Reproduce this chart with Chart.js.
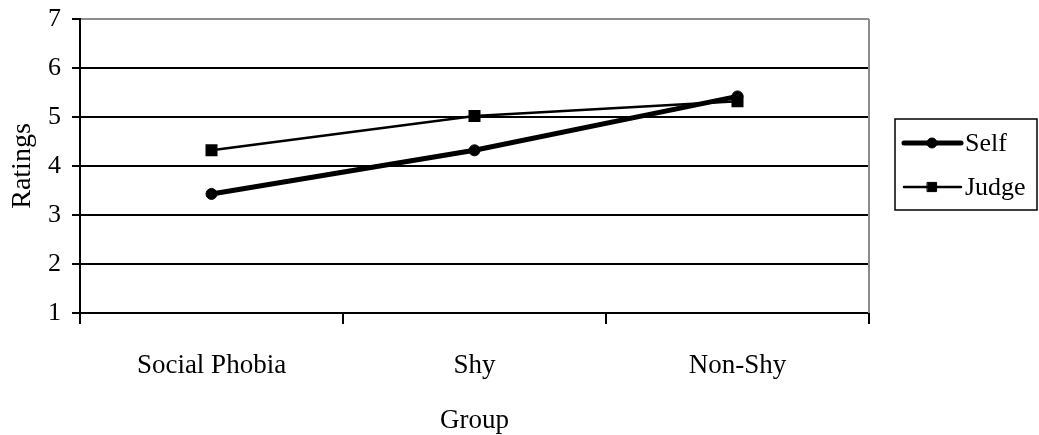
<!DOCTYPE html>
<html>
<head>
<meta charset="utf-8">
<style>
  html, body { margin: 0; padding: 0; background: #fff; }
  canvas { display: block; }
</style>
<script src="https://cdn.jsdelivr.net/npm/chart.js@4/dist/chart.umd.min.js"></script>
</head>
<body>
<canvas id="ratingsChart" width="1039" height="435"></canvas>
<script>
// Mean ratings per group
const groups = ['Social Phobia', 'Shy', 'Non-Shy'];
const selfRatings = [3.43, 4.32, 5.42];
const judgeRatings = [4.32, 5.02, 5.32];
const ratingTicks = [1, 2, 3, 4, 5, 6, 7];
const seriesNames = ['Self', 'Judge'];

const serif = "'Liberation Serif', 'Times New Roman', serif";

// Thin grey frame line on the right edge of the plot area
const rightBorder = {
  id: 'rightBorder',
  beforeDatasetsDraw(chart) {
    const { ctx, chartArea: a } = chart;
    ctx.save();
    ctx.strokeStyle = '#8c8c8c';
    ctx.lineWidth = 2;
    ctx.beginPath();
    ctx.moveTo(a.right, a.top);
    ctx.lineTo(a.right, a.bottom);
    ctx.stroke();
    ctx.restore();
  }
};

// Boxed legend to the right of the plot, line sample with marker
const legendBox = {
  id: 'legendBox',
  afterDraw(chart) {
    const { ctx, chartArea: a } = chart;
    const x0 = a.right + 26;
    const y0 = 119;
    const w = chart.width - 2 - x0;
    const h = 91;
    ctx.save();
    ctx.strokeStyle = '#000';
    ctx.fillStyle = '#000';
    ctx.lineWidth = 1.5;
    ctx.strokeRect(x0, y0, w, h);
    chart.data.datasets.forEach((ds, i) => {
      const y = y0 + 24 + i * 44;
      ctx.beginPath();
      ctx.lineWidth = ds.borderWidth;
      ctx.lineCap = 'round';
      ctx.moveTo(x0 + 9, y);
      ctx.lineTo(x0 + 66, y);
      ctx.stroke();
      ctx.lineWidth = 1;
      Chart.helpers.drawPoint(ctx, {
        pointStyle: ds.pointStyle,
        radius: ds.legendMarkerRadius,
        borderWidth: 1,
        rotation: 0
      }, x0 + 37, y);
      ctx.font = '26px ' + serif;
      ctx.textBaseline = 'middle';
      ctx.textAlign = 'left';
      ctx.fillText(ds.label, x0 + 70, y + 1);
    });
    ctx.restore();
  }
};

new Chart(document.getElementById('ratingsChart'), {
  type: 'line',
  data: {
    labels: groups,
    datasets: [
      {
        label: seriesNames[0],
        data: selfRatings,
        borderColor: '#000',
        backgroundColor: '#000',
        borderWidth: 5,
        pointStyle: 'circle',
        pointRadius: 5.5,
        pointHoverRadius: 5.5,
        pointBorderWidth: 1,
        legendMarkerRadius: 5,
        tension: 0
      },
      {
        label: seriesNames[1],
        data: judgeRatings,
        borderColor: '#000',
        backgroundColor: '#000',
        borderWidth: 2.5,
        pointStyle: 'rect',
        pointRadius: 8.5,
        pointHoverRadius: 8.5,
        pointBorderWidth: 0,
        legendMarkerRadius: 6.5,
        tension: 0
      }
    ]
  },
  options: {
    responsive: false,
    animation: false,
    events: [],
    layout: { padding: { top: 19, right: 170, left: 0, bottom: 0 } },
    plugins: {
      legend: { display: false },
      tooltip: { enabled: false }
    },
    scales: {
      x: {
        offset: true,
        grid: {
          offset: true,
          drawOnChartArea: false,
          color: '#000',
          lineWidth: 2,
          tickLength: 11
        },
        border: { color: '#000', width: 2 },
        ticks: {
          color: '#000',
          font: { family: serif, size: 27 },
          padding: 26
        },
        title: {
          display: true,
          text: 'Group',
          color: '#000',
          font: { family: serif, size: 27 },
          padding: { top: 0, bottom: -2 }
        },
        afterFit(scale) { scale.height = 122; }
      },
      y: {
        min: 1,
        max: 7,
        afterBuildTicks(scale) {
          scale.ticks = ratingTicks.map(v => ({ value: v }));
        },
        ticks: {
          color: '#000',
          font: { family: serif, size: 26 },
          padding: 11
        },
        grid: {
          color: c => (c.tick && c.tick.value === 7 ? '#8c8c8c' : '#000'),
          tickColor: '#000',
          lineWidth: 2,
          tickLength: 8
        },
        border: { color: '#000', width: 2 },
        title: {
          display: true,
          text: 'Ratings',
          color: '#000',
          font: { family: serif, size: 28 },
          padding: { top: 6, bottom: 0 }
        },
        afterFit(scale) {
          scale.width = 80;
          scale.paddingTop = 0;
          scale.paddingBottom = 0;
        }
      }
    }
  },
  plugins: [rightBorder, legendBox]
});
</script>
</body>
</html>
